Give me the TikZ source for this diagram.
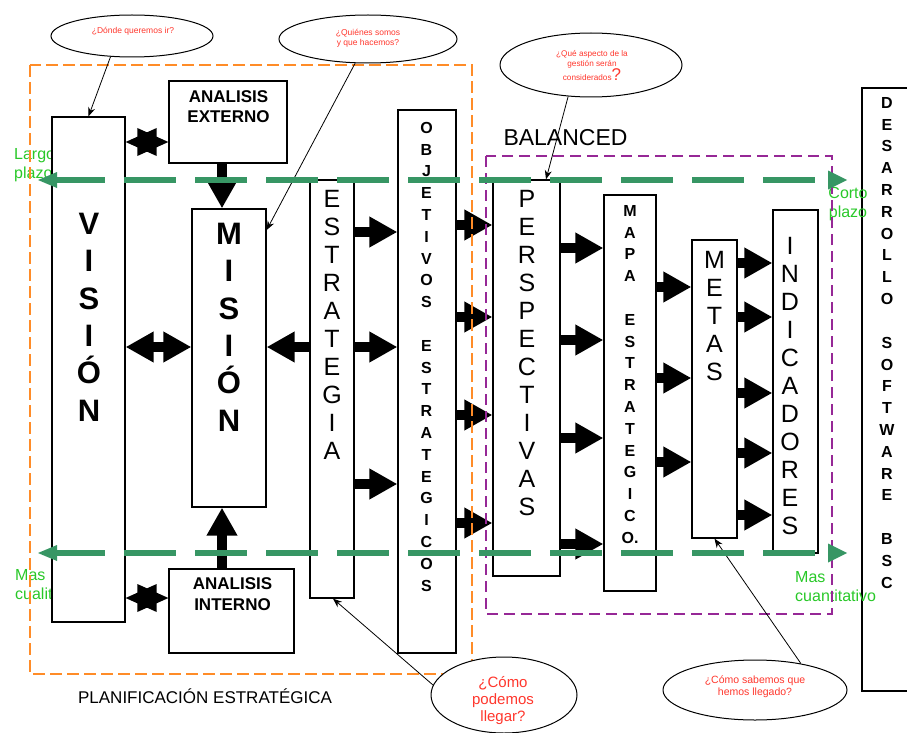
\documentclass[tikz,border=0pt]{standalone}
\usepackage{fontspec}
\setmainfont{Liberation Sans}
\usetikzlibrary{arrows.meta,shapes.geometric}
\definecolor{gline}{RGB}{55,150,100}
\definecolor{gtext}{RGB}{40,200,40}
\definecolor{qred}{RGB}{255,55,45}
\definecolor{orng}{RGB}{255,140,40}
\definecolor{purp}{RGB}{150,40,150}
\begin{document}
\begin{tikzpicture}[x=1pt,y=-1pt,
 box/.style={draw=black, fill=white, line width=1.3pt, rectangle, inner sep=0pt},
 bigl/.style={font=\fontsize{31}{37.3}\selectfont\bfseries, align=center, inner sep=0pt, anchor=north},
 medl/.style={font=\fontsize{25}{28}\selectfont, align=center, inner sep=0pt, anchor=north},
 smll/.style={font=\fontsize{16}{21.8}\selectfont\bfseries, align=center, inner sep=0pt, anchor=north},
 anl/.style={font=\fontsize{17}{20}\selectfont\bfseries, align=center, inner sep=0pt, anchor=north},
 blk/.style={line width=10pt, -{Triangle[length=28pt,width=29pt]}},
 blkdbl/.style={line width=10pt, {Triangle[length=28pt,width=29pt]}-{Triangle[length=28pt,width=29pt]}},
 conn/.style={line width=0.8pt, -{Stealth[length=9pt,width=7pt]}},
 bub/.style={ellipse, draw=black, fill=white, line width=1pt, inner sep=0pt},
 qtxt/.style={text=qred, align=center, inner sep=0pt},
 gdash/.style={draw=gline, line width=6pt, dash pattern=on 52pt off 19pt},
 glab/.style={text=gtext, font=\fontsize{16}{19}\selectfont, inner sep=0pt},
]
\useasboundingbox (0,0) rectangle (907,733);

% green labels under the VISION box
\node[glab, align=left, anchor=north west] (lp) at (14,148) {Largo\\plazo};
\node[glab, align=left, anchor=north west] (mcl) at (15,569) {Mas\\cualitativo};

% boxes
\node[box, minimum width=73pt, minimum height=505pt] (vis) at (88.5,369.5) {};
\node[box, minimum width=118pt, minimum height=82pt] (ext) at (228,122) {};
\node[box, minimum width=125pt, minimum height=84pt] (int) at (231.5,611) {};
\node[box, minimum width=74pt, minimum height=298pt] (mis) at (229,358) {};
\node[box, minimum width=44pt, minimum height=418pt] (est) at (332,389) {};
\node[box, minimum width=58pt, minimum height=543pt] (obj) at (427,381.5) {};
\node[box, minimum width=67pt, minimum height=396pt] (per) at (526.5,378) {};
\node[box, minimum width=52pt, minimum height=396pt] (mapa) at (630,393) {};
\node[box, minimum width=45pt, minimum height=298pt] (metas) at (714.5,389) {};
\node[box, minimum width=45pt, minimum height=343pt] (ind) at (795.5,381.5) {};
\node[box, minimum width=80pt, minimum height=603pt] (des) at (902,389.5) {};

% box texts
\node[anl] (extT) at (228.5,90) {ANALISIS\\EXTERNO};
\node[anl, font=\fontsize{17}{21.5}\selectfont\bfseries] (intT) at (232.5,577) {ANALISIS\\INTERNO};
\node[bigl] (visT) at (89,213) {V\\I\\S\\I\\Ó\\N};
\node[bigl] (misT) at (229,223) {M\\I\\S\\I\\Ó\\N};
\node[medl] (estT) at (332,190) {E\\S\\T\\R\\A\\T\\E\\G\\I\\A};
\node[smll] (objT) at (426.5,122) {O\\B\\J\\E\\T\\I\\V\\O\\S\\[21.8pt]E\\S\\T\\R\\A\\T\\E\\G\\I\\C\\O\\S};
\node[medl] (perT) at (527,190) {P\\E\\R\\S\\P\\E\\C\\T\\I\\V\\A\\S};
\node[smll] (mapaT) at (630,205) {M\\A\\P\\A\\[21.8pt]E\\S\\T\\R\\A\\T\\E\\G\\I\\C\\O.};
\node[medl] (metasT) at (714.5,251) {M\\E\\T\\A\\S};
\node[medl] (indT) at (790,237) {I\\N\\D\\I\\C\\A\\D\\O\\R\\E\\S};
\node[smll] (desT) at (887,97) {D\\E\\S\\A\\R\\R\\O\\L\\L\\O\\[22pt]S\\O\\F\\T\\W\\A\\R\\E\\[22pt]B\\S\\C};

% green labels on the right
\node[glab, align=center, anchor=north] (cp) at (848,187) {Corto\\plazo};
\node[glab, align=left, anchor=north west] (mcu) at (795,571) {Mas\\cuantitativo};

% block arrows
\draw[blk] (ext.south -| 222,0) -- (mis.north -| 222,0);
\draw[blk] (int.north -| 222,0) -- (mis.south -| 222,0);
\draw[blkdbl] (vis.east |- 0,347) -- (mis.west |- 0,347);
\draw[blk] (est.west |- 0,347) -- (mis.east |- 0,347);
\foreach \yy in {232,347,484} \draw[blk] (est.east |- 0,\yy) -- (obj.west |- 0,\yy);
\foreach \yy in {225,317,415,523} \draw[blk] (obj.east |- 0,\yy) -- (per.west |- 0,\yy);
\foreach \yy in {248,340,438,544} \draw[blk] (per.east |- 0,\yy) -- (mapa.west |- 0,\yy);
\foreach \yy in {287,378,462} \draw[blk] (mapa.east |- 0,\yy) -- (metas.west |- 0,\yy);
\foreach \yy in {263,317,393,453,515} \draw[blk] (metas.east |- 0,\yy) -- (ind.west |- 0,\yy);

% star-like double arrows
\fill (vis.east |- 0,142) -- ++(31,-14) -- ++(0,28) -- cycle;
\fill (ext.west |- 0,142) -- ++(-31,-14) -- ++(0,28) -- cycle;
\fill (vis.east |- 0,598) -- ++(31,-14) -- ++(0,28) -- cycle;
\fill (int.west |- 0,598) -- ++(-31,-14) -- ++(0,28) -- cycle;

% dashed frames
\draw[orng, line width=1.5pt, dash pattern=on 12pt off 5pt] (30,65) rectangle (472,674);
\draw[purp, line width=1.3pt, dash pattern=on 11pt off 6pt] (486,156) rectangle (832,614);

% ellipses
\node[bub, minimum width=162pt, minimum height=42pt] (q1) at (132,36) {};
\node[bub, minimum width=178pt, minimum height=48pt] (q2) at (368,39) {};
\node[bub, minimum width=182pt, minimum height=64pt] (q3) at (591,65) {};
\node[bub, minimum width=146pt, minimum height=76pt] (q4) at (504,695) {};
\node[bub, minimum width=184pt, minimum height=60pt] (q5) at (755,690) {};

\node[qtxt, font=\fontsize{8.5}{10}\selectfont, anchor=base] (q1T) at (133,33.5) {¿Dónde queremos ir?};
\node[qtxt, font=\fontsize{8.5}{9.5}\selectfont, anchor=north] (q2T) at (368,29.5) {¿Quiénes somos\\y que hacemos?};
\node[qtxt, font=\fontsize{8.2}{10}\selectfont, anchor=north] (q3T) at (592,50) {¿Qué aspecto de la\\gestión serán\\considerados{\fontsize{17}{17}\selectfont ?}};
\node[qtxt, font=\fontsize{15}{17}\selectfont, anchor=north] (q4T) at (503,676) {¿Cómo\\podemos\\llegar?};
\node[qtxt, font=\fontsize{10.5}{12}\selectfont, anchor=north] (q5T) at (755,676) {¿Cómo sabemos que\\hemos llegado?};

% thin connectors
\draw[conn] (q1.224) -- (vis.north);
\draw[conn] (q2.242) -- (mis.east |- 0,230);
\draw[conn] (q3.234) -- (per.north -| 546,0);
\draw[conn] (q4.172) -- (est.south -| 333,0);
\draw[conn] (q5.30) -- (metas.south);

% titles
\node[font=\fontsize{23}{23}\selectfont, anchor=base, inner sep=0pt] (bal) at (565.5,146) {BALANCED};
\node[font=\fontsize{17}{17}\selectfont, anchor=base, inner sep=0pt] (plan) at (205,703) {PLANIFICACIÓN ESTRATÉGICA};

% green dashed time lines
\coordinate (gTL) at (53,180);
\coordinate (gTR) at (828,180);
\coordinate (gBL) at (53,553);
\coordinate (gBR) at (828,553);
\draw[gdash] (gTL) -- (gTR);
\draw[gdash] (gBL) -- (gBR);
\fill[gline] (gTL) ++(-15,0) -- ++(19,-8) -- ++(0,16) -- cycle;
\fill[gline] (gBL) ++(-15,0) -- ++(19,-8) -- ++(0,16) -- cycle;
\fill[gline] (gTR) -- ++(0,-9.5) -- ++(19,9.5) -- ++(-19,9.5) -- cycle;
\fill[gline] (gBR) -- ++(0,-9.5) -- ++(19,9.5) -- ++(-19,9.5) -- cycle;
\end{tikzpicture}
\end{document}
